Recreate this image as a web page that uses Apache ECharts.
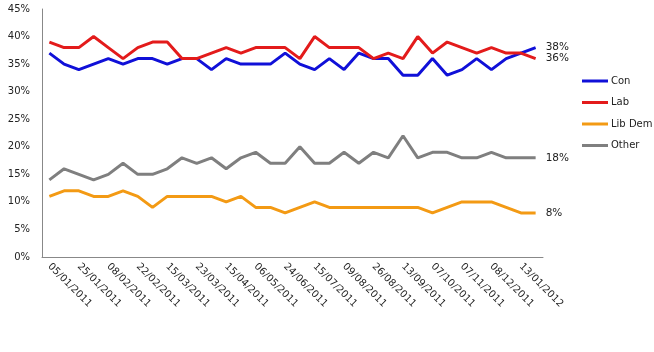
<!DOCTYPE html>
<html>
<head>
<meta charset="utf-8">
<script src="https://cdn.jsdelivr.net/npm/echarts@6/dist/echarts.min.js"></script>
<style>
  html, body { margin: 0; padding: 0; background: #fff; }
  #chart { width: 654px; height: 352px; }
</style>
</head>
<body>
<div id="chart"></div>
<script>
// poll dates (every other one is labelled on the axis)
var dates = [
  "05/01/2011", "14/01/2011", "25/01/2011", "01/02/2011", "08/02/2011", "15/02/2011",
  "22/02/2011", "08/03/2011", "15/03/2011", "18/03/2011", "23/03/2011", "05/04/2011",
  "15/04/2011", "26/04/2011", "06/05/2011", "01/06/2011", "24/06/2011", "05/07/2011",
  "15/07/2011", "26/07/2011", "09/08/2011", "17/08/2011", "26/08/2011", "05/09/2011",
  "13/09/2011", "27/09/2011", "07/10/2011", "21/10/2011", "07/11/2011", "23/11/2011",
  "08/12/2011", "20/12/2011", "13/01/2012", "20/01/2012"
];
var con = [37, 35, 34, 35, 36, 35, 36, 36, 35, 36, 36, 34, 36, 35, 35, 35, 37, 35,
           34, 36, 34, 37, 36, 36, 33, 33, 36, 33, 34, 36, 34, 36, 37, 38];
var lab = [39, 38, 38, 40, 38, 36, 38, 39, 39, 36, 36, 37, 38, 37, 38, 38, 38, 36,
           40, 38, 38, 38, 36, 37, 36, 40, 37, 39, 38, 37, 38, 37, 37, 36];
var libDem = [11, 12, 12, 11, 11, 12, 11, 9, 11, 11, 11, 11, 10, 11, 9, 9, 8, 9,
              10, 9, 9, 9, 9, 9, 9, 9, 8, 9, 10, 10, 10, 9, 8, 8];
var other = [14, 16, 15, 14, 15, 17, 15, 15, 16, 18, 17, 18, 16, 18, 19, 17, 17, 20,
             17, 17, 19, 17, 19, 18, 22, 18, 19, 19, 18, 18, 19, 18, 18, 18];

var chart = echarts.init(document.getElementById("chart"));

function makeSeries(name, data, color) {
  return {
    name: name,
    type: "line",
    data: data,
    symbol: "none",
    lineStyle: { width: 3, color: color },
    itemStyle: { color: color },
    endLabel: {
      show: true,
      formatter: "{c}%",
      distance: 10,
      color: "#222",
      fontFamily: "DejaVu Sans",
      fontSize: 10.5
    }
  };
}

var option = {
  animation: false,
  textStyle: { fontFamily: "DejaVu Sans" },
  grid: { left: 42, right: 111, top: 9, bottom: 95 },
  legend: {
    orient: "vertical",
    left: 577,
    top: 71,
    icon: "rect",
    itemWidth: 26,
    itemHeight: 3,
    itemGap: 11.5,
    textStyle: { fontSize: 10, color: "#222", padding: [0, 0, 0, -2] },
    data: ["Con", "Lab", "Lib Dem", "Other"]
  },
  xAxis: {
    type: "category",
    data: dates,
    boundaryGap: true,
    axisLine: { lineStyle: { color: "#888", width: 1 } },
    axisTick: { show: false },
    axisLabel: {
      interval: 1,
      rotate: -45,
      margin: 8,
      fontSize: 10,
      color: "#222"
    }
  },
  yAxis: {
    type: "value",
    min: 0,
    max: 45,
    interval: 5,
    splitLine: { show: false },
    axisLine: { show: true, lineStyle: { color: "#888", width: 1 } },
    axisTick: { show: false },
    axisLabel: { formatter: "{value}%", fontSize: 10, color: "#222", margin: 12 }
  },
  series: [
    makeSeries("Con", con, "#1010d8"),
    makeSeries("Lab", lab, "#e31b1b"),
    makeSeries("Lib Dem", libDem, "#f39a14"),
    makeSeries("Other", other, "#7f7f7f")
  ]
};

chart.setOption(option);
</script>
</body>
</html>
